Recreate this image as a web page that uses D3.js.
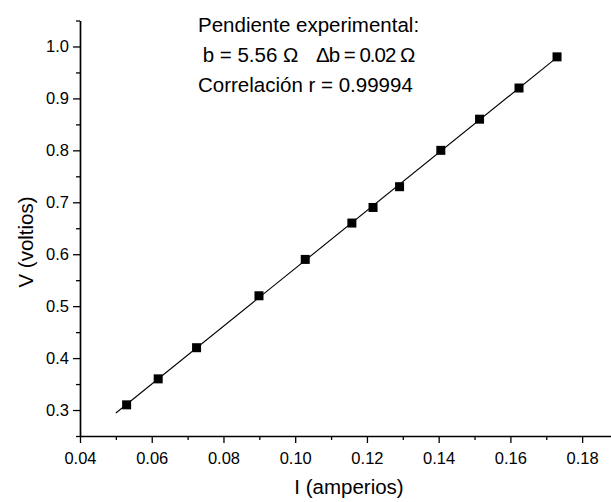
<!DOCTYPE html>
<html>
<head>
<meta charset="utf-8">
<script src="https://cdn.jsdelivr.net/npm/d3@7"></script>
<style>
  body { margin: 0; background: #fff; }
  svg { display: block; font-family: "Liberation Sans", Arial, sans-serif; }
</style>
</head>
<body>
<svg id="chart" width="611" height="502"></svg>
<script>
// datos medidos
let corriente = [0.053, 0.0618, 0.0725, 0.0899, 0.1028, 0.1158, 0.1217, 0.1291, 0.1406, 0.1514, 0.1624, 0.1730];
let voltaje   = [0.31, 0.36, 0.42, 0.52, 0.59, 0.66, 0.69, 0.73, 0.80, 0.86, 0.92, 0.98];

let xTicks = [0.04, 0.06, 0.08, 0.10, 0.12, 0.14, 0.16, 0.18];
let xMinor = [0.05, 0.07, 0.09, 0.11, 0.13, 0.15, 0.17];
let yTicks = [0.3, 0.4, 0.5, 0.6, 0.7, 0.8, 0.9, 1.0];
let yMinor = [0.25, 0.35, 0.45, 0.55, 0.65, 0.75, 0.85, 0.95, 1.05];

let fitStart = 0.05;
let notas = ["Pendiente experimental:", " b = 5.56 \u03A9", "\u0394b = 0.02 \u03A9", "Correlaci\u00F3n r = 0.99994"];

init();
function init(){
    let svg = d3.select("#chart");
    let x = d3.scaleLinear().domain([0.04, 0.19]).range([80, 618]);
    let y = d3.scaleLinear().domain([0.25, 1.05]).range([436, 20.5]);

    // ejes
    let gx = svg.append("g").attr("transform", "translate(0,436)");
    gx.call(d3.axisBottom(x).tickValues(xTicks).tickSize(7).tickSizeOuter(0).tickPadding(9)
        .tickFormat(d3.format(".2f")));
    gx.append("g").call(d3.axisBottom(x).tickValues(xMinor).tickSize(4).tickFormat(""))
        .select(".domain").remove();

    let gy = svg.append("g").attr("transform", "translate(80,0)");
    gy.call(d3.axisLeft(y).tickValues(yTicks).tickSize(7).tickSizeOuter(0).tickPadding(4)
        .tickFormat(d3.format(".1f")));
    gy.append("g").call(d3.axisLeft(y).tickValues(yMinor).tickSize(4).tickFormat(""))
        .select(".domain").remove();

    svg.selectAll(".domain").attr("stroke-width", 1.7);
    svg.selectAll(".tick line").attr("stroke-width", 1.3);
    svg.selectAll(".tick text").style("font-size", "16.5px").attr("fill", "#000");

    // recta de ajuste (minimos cuadrados)
    let mx = d3.mean(corriente), my = d3.mean(voltaje);
    let sxy = d3.sum(corriente, (c, i) => (c - mx) * (voltaje[i] - my));
    let sxx = d3.sum(corriente, c => (c - mx) * (c - mx));
    let b = sxy / sxx, a = my - b * mx;
    let fitX = [fitStart, d3.max(corriente)];
    svg.append("path")
        .datum(fitX)
        .attr("fill", "none")
        .attr("stroke", "#000")
        .attr("stroke-width", 1.1)
        .attr("d", d3.line().x(d => x(d)).y(d => y(a + b * d)));

    // puntos
    svg.selectAll("rect.pt")
        .data(corriente)
        .enter()
        .append("rect")
        .attr("class", "pt")
        .attr("x", d => x(d) - 4.5)
        .attr("y", (d, i) => y(voltaje[i]) - 4.5)
        .attr("width", 9)
        .attr("height", 9)
        .attr("fill", "#000");

    // titulos de ejes
    svg.append("text")
        .attr("x", 349).attr("y", 494)
        .attr("text-anchor", "middle")
        .style("font-size", "20.5px")
        .text("I (amperios)");
    svg.append("text")
        .attr("transform", "translate(33,242) rotate(-90)")
        .attr("text-anchor", "middle")
        .style("font-size", "20.5px")
        .text("V (voltios)");

    // anotacion
    let nota = svg.append("g").style("font-size", "20.5px");
    nota.append("text").attr("x", 198).attr("y", 31.7).text(notas[0]);
    nota.append("text").attr("x", 197).attr("y", 61.7).attr("xml:space", "preserve").text(notas[1]);
    nota.append("text").attr("x", 316).attr("y", 61.7).attr("letter-spacing", "-1").text(notas[2]);
    nota.append("text").attr("x", 198).attr("y", 92.3).text(notas[3]);
}
</script>
</body>
</html>
